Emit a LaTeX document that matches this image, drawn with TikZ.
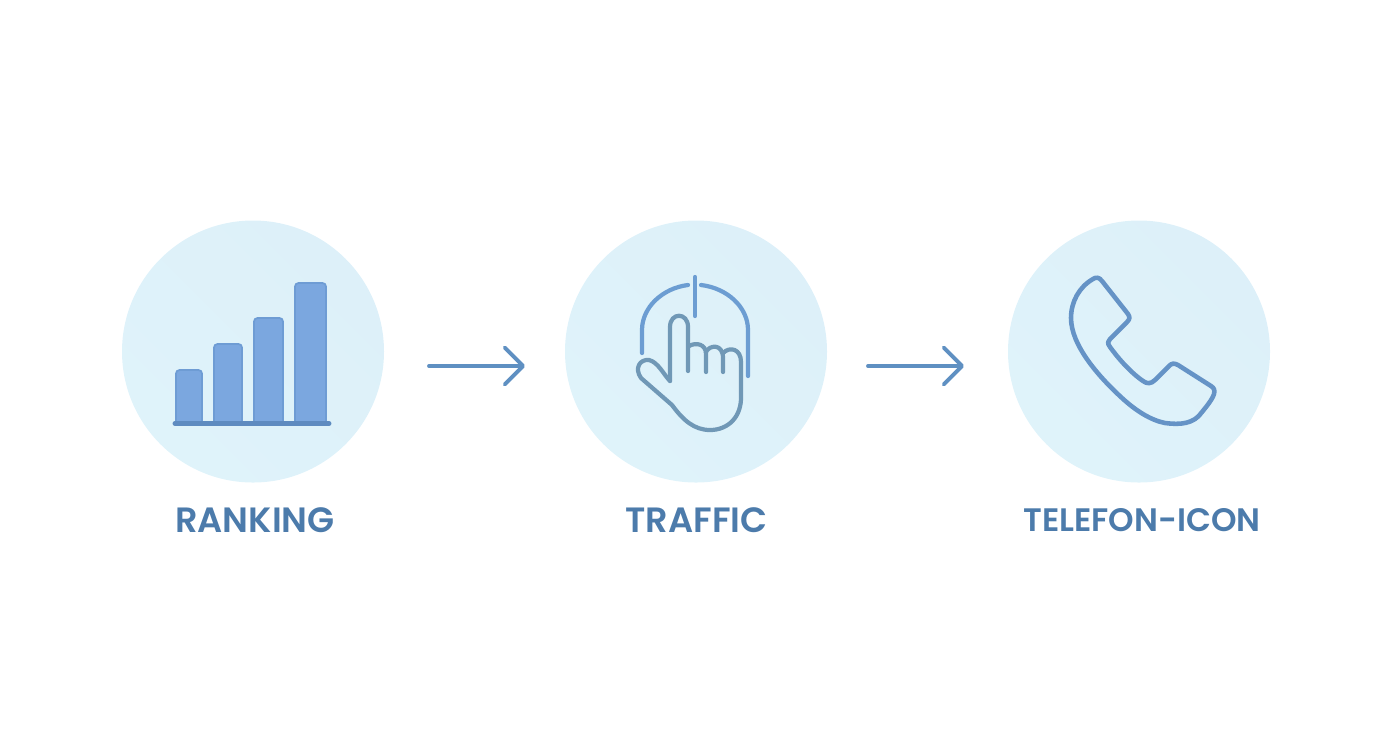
\documentclass[tikz,border=0pt]{standalone}
\usepackage{fontspec}
\setmainfont{Poppins SemiBold}
\usetikzlibrary{arrows.meta}
\definecolor{paleblue}{HTML}{DDF0F9}
\definecolor{palecyan}{HTML}{DFF3FA}
\definecolor{barblue}{HTML}{7BA7DF}
\definecolor{baredge}{HTML}{6E9CD4}
\definecolor{baseblue}{HTML}{5E8BC0}
\definecolor{lineblue}{HTML}{6C9DD2}
\definecolor{handgrey}{HTML}{7098B6}
\definecolor{phoneblue}{HTML}{6593C6}
\definecolor{arrowblue}{HTML}{5F90C2}
\definecolor{labelblue}{HTML}{4C7BAB}
\tikzset{
	stage/.style={circle,left color=paleblue,right color=palecyan,shading angle=-45,minimum size=262*0.02cm,inner sep=0},
	caption/.style={text=labelblue,font=\fontsize{20}{24}\selectfont,inner sep=0},
	smallcaption/.style={text=labelblue,font=\fontsize{18.5}{24}\selectfont,inner sep=0},
	bar/.style={fill=barblue,draw=baredge,line width=1,rounded corners=2},
	link/.style={line width=2.2,color=arrowblue,line cap=round,-{Straight Barb[length=10.5pt,width=21pt,line width=2.2pt,round]}}
}
\begin{document}
\begin{tikzpicture}[x=0.02cm,y=-0.02cm]
	\useasboundingbox (0,0) rectangle (1392,752);
	\node[stage] (ranking) at (253,351.5) {};
	\node[stage] (traffic) at (696,351.5) {};
	\node[stage] (telefon) at (1139,351.5) {};
	\node[caption] (ranktext) at (255,520) {RANKING};
	\node[caption] (traffictext) at (696.5,520) {TRAFFIC};
	\node[smallcaption] (telefontext) at (1142,520) {TELEFON-ICON};
	% arrows
	\coordinate (linkAstart) at (429,366);
	\coordinate (linkAend) at (525,366);
	\coordinate (linkBstart) at (868,366);
	\coordinate (linkBend) at (964,366);
	\draw[link] (linkAstart) -- (linkAend);
	\draw[link] (linkBstart) -- (linkBend);
	% bars
	\draw[bar] (176,424) -- (176,370) -- (202,370) -- (202,424);
	\draw[bar] (214,424) -- (214,344) -- (242,344) -- (242,424);
	\draw[bar] (254,424) -- (254,318) -- (283,318) -- (283,424);
	\draw[bar] (295,424) -- (295,283) -- (326,283) -- (326,424);
	\draw[line width=2.8,color=baseblue,line cap=round] (175,423.5) -- (329,423.5);
	% mouse
	\draw[line width=2.4,color=lineblue,line cap=round] (642,353) -- (642,330)
		.. controls (642,307) and (663,288) .. (688,285);
	\draw[line width=2.4,color=lineblue,line cap=round] (701,285)
		.. controls (727,288) and (748,307) .. (748,330) -- (748,376);
	\draw[line width=2.4,color=lineblue,line cap=round] (695,277) -- (695,316);
	% hand
	\draw[line width=2.4,color=handgrey,line cap=round,line join=round]
		(670,381) -- (670,327) .. controls (670,312) and (688,312) .. (688,327)
		-- (688,371);
	\draw[line width=2.4,color=handgrey,line cap=round,line join=round]
		(689,346) .. controls (696,342) and (706,344) .. (706,354) -- (706,372);
	\draw[line width=2.4,color=handgrey,line cap=round,line join=round]
		(706,352) .. controls (709,345) and (723,343) .. (723,358) -- (723,372);
	\draw[line width=2.4,color=handgrey,line cap=round,line join=round]
		(723,353) .. controls (730,346) and (741,349) .. (741,362)
		-- (741,395) .. controls (742,417) and (728,430) .. (710,430)
		.. controls (694,430) and (683,420) .. (672,405)
		-- (641,378) .. controls (634,368) and (640,359) .. (649,360)
		.. controls (658,362) and (664,375) .. (670,381);
	% phone
	\draw[line width=2.6,color=phoneblue,line join=round]
		(1102,281) .. controls (1099,277) and (1096,277) .. (1093,279)
		.. controls (1079,287) and (1071,302) .. (1071,318)
		.. controls (1071,345) and (1098,376) .. (1122,398)
		.. controls (1135,410) and (1150,420) .. (1165,423)
		.. controls (1180,425) and (1194,424) .. (1202,412)
		.. controls (1206,407) and (1212,400) .. (1214,394)
		.. controls (1215,390) and (1214,388) .. (1211,386)
		-- (1178,365) .. controls (1174,363) and (1172,363) .. (1169,366)
		-- (1155,380) .. controls (1151,384) and (1147,384) .. (1143,381)
		.. controls (1130,372) and (1118,358) .. (1110,347)
		.. controls (1107,343) and (1108,341) .. (1110,339)
		-- (1127,322) .. controls (1130,319) and (1130,317) .. (1128,314)
		-- cycle;
\end{tikzpicture}
\end{document}
